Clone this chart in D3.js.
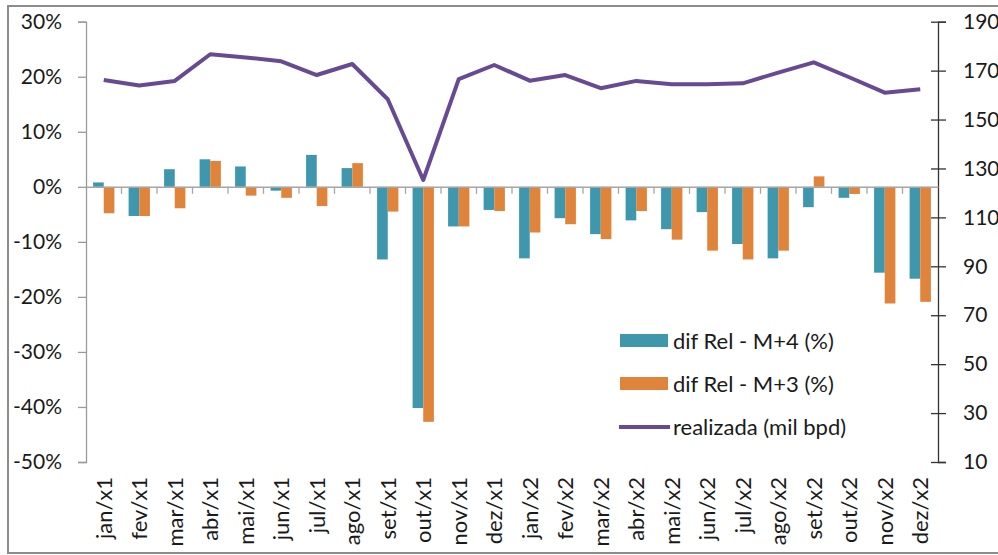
<!DOCTYPE html>
<html>
<head>
<meta charset="utf-8">
<script src="https://cdn.jsdelivr.net/npm/d3@7"></script>
<style>
  body { margin: 0; background: #fff; }
  svg { display: block; }
  text { font-family: Lato, Carlito, "Open Sans", sans-serif; fill: #1a1a1a; }
</style>
</head>
<body>
<div id="chart"></div>
<script>
// Data
const months = ['jan/x1','fev/x1','mar/x1','abr/x1','mai/x1','jun/x1','jul/x1','ago/x1','set/x1','out/x1','nov/x1','dez/x1',
                'jan/x2','fev/x2','mar/x2','abr/x2','mai/x2','jun/x2','jul/x2','ago/x2','set/x2','out/x2','nov/x2','dez/x2']
const difM4 = [0.8, -5.3, 3.2, 5.0, 3.7, -0.7, 5.8, 3.4, -13.2, -40.2, -7.2, -4.2,
               -13.0, -5.7, -8.6, -6.1, -7.7, -4.6, -10.4, -13.0, -3.7, -2.0, -15.6, -16.7]
const difM3 = [-4.8, -5.3, -3.9, 4.7, -1.6, -2.0, -3.5, 4.3, -4.5, -42.7, -7.2, -4.4,
               -8.3, -6.8, -9.5, -4.4, -9.6, -11.6, -13.2, -11.6, 1.9, -1.3, -21.2, -20.9]
const realizada = [166.2, 163.9, 165.8, 176.7, 175.4, 173.8, 168.2, 172.7, 158.3, 125.3, 166.5, 172.3,
                   165.9, 168.2, 162.8, 165.8, 164.4, 164.4, 164.8, 169.2, 173.4, 167.3, 161.0, 162.4]
const leftTicks = [30, 20, 10, 0, -10, -20, -30, -40, -50]
const rightTicks = [190, 170, 150, 130, 110, 90, 70, 50, 30, 10]
const seriesNames = ['dif Rel - M+4 (%)', 'dif Rel - M+3 (%)', 'realizada (mil bpd)']

const colors = { m4: '#3f97ae', m3: '#e0843b', line: '#684a92' }

const width = 998, height = 555
const svg = d3.select('#chart').append('svg')
  .attr('width', width)
  .attr('height', height)

// outer frame
svg.append('rect')
  .attr('x', 8).attr('y', 6)
  .attr('width', 1000).attr('height', 547)
  .attr('fill', 'none')
  .attr('stroke', '#8c8c8c')
  .attr('stroke-width', 2)

const plot = { left: 86, right: 938, top: 21.7, bottom: 462 }

// Scales
const x = d3.scaleBand().domain(months).range([plot.left, plot.right])
const yL = d3.scaleLinear().domain([-50, 30]).range([plot.bottom, plot.top])
const yR = d3.scaleLinear().domain([10, 190]).range([plot.bottom, plot.top])

const barW = x.bandwidth() * 0.3
const barOffset = (x.bandwidth() - 2 * barW) / 2

// Bars
const g = svg.append('g')
g.selectAll('rect.m4')
  .data(difM4)
  .enter().append('rect')
  .attr('class', 'm4')
  .attr('x', (d, i) => x(months[i]) + barOffset)
  .attr('y', d => yL(Math.max(0, d)))
  .attr('width', barW)
  .attr('height', d => Math.abs(yL(d) - yL(0)))
  .attr('fill', colors.m4)

g.selectAll('rect.m3')
  .data(difM3)
  .enter().append('rect')
  .attr('class', 'm3')
  .attr('x', (d, i) => x(months[i]) + barOffset + barW)
  .attr('y', d => yL(Math.max(0, d)))
  .attr('width', barW)
  .attr('height', d => Math.abs(yL(d) - yL(0)))
  .attr('fill', colors.m3)

// Left axis
const yAxisL = d3.axisLeft(yL)
  .tickValues(leftTicks)
  .tickFormat(d => d + '%')
  .tickSize(8)
  .tickPadding(16)
const leftG = svg.append('g')
  .attr('transform', `translate(${plot.left}, 0)`)
  .call(yAxisL)
leftG.select('.domain').attr('stroke', '#9a9a9a').attr('stroke-width', 1.3)
leftG.selectAll('.tick line').attr('stroke', '#9a9a9a').attr('stroke-width', 1.3)
leftG.selectAll('text').attr('font-size', '21px').attr('fill', '#1a1a1a')

// Right axis
const yAxisR = d3.axisRight(yR)
  .tickValues(rightTicks)
  .tickSize(8)
  .tickPadding(17)
const rightG = svg.append('g')
  .attr('transform', `translate(${plot.right}, 0)`)
  .call(yAxisR)
rightG.select('.domain').attr('stroke', '#333').attr('stroke-width', 1.3)
rightG.selectAll('.tick line').attr('x1', -7).attr('stroke', '#333').attr('stroke-width', 1.3)
rightG.selectAll('text').attr('font-size', '21px').attr('fill', '#1a1a1a')

// Category axis at 0%
const xAxis = d3.axisBottom(x).tickSize(0).tickFormat('')
const xG = svg.append('g')
  .attr('transform', `translate(0, ${yL(0)})`)
  .call(xAxis)
xG.select('.domain').attr('stroke', '#a6a6a6').attr('stroke-width', 1.5)
xG.selectAll('line.sep')
  .data(months.slice(1))
  .enter().append('line')
  .attr('class', 'sep')
  .attr('x1', d => x(d)).attr('x2', d => x(d))
  .attr('y1', 0).attr('y2', 7)
  .attr('stroke', '#a6a6a6')
  .attr('stroke-width', 1.3)

// Category labels (rotated, at bottom)
svg.selectAll('text.cat')
  .data(months)
  .enter().append('text')
  .attr('class', 'cat')
  .attr('transform', d => `translate(${x(d) + x.bandwidth() / 2 + 8}, ${plot.bottom + 15}) rotate(-90)`)
  .attr('text-anchor', 'end')
  .attr('font-size', '22px')
  .text(d => d)

// Line
const line = d3.line()
  .x((d, i) => x(months[i]) + x.bandwidth() / 2)
  .y(d => yR(d))
svg.append('path')
  .datum(realizada)
  .attr('d', line)
  .attr('fill', 'none')
  .attr('stroke', colors.line)
  .attr('stroke-width', 4)
  .attr('stroke-linejoin', 'round')

// Legend
const legend = svg.append('g').attr('transform', 'translate(620, 341)')
const legendItems = [
  { name: seriesNames[0], color: colors.m4, type: 'bar' },
  { name: seriesNames[1], color: colors.m3, type: 'bar' },
  { name: seriesNames[2], color: colors.line, type: 'line' }
]
legendItems.forEach((item, i) => {
  const row = legend.append('g').attr('transform', `translate(0, ${i * 43})`)
  if (item.type === 'bar') {
    row.append('rect')
      .attr('x', 0).attr('y', -7)
      .attr('width', 48).attr('height', 13)
      .attr('fill', item.color)
  } else {
    row.append('line')
      .attr('x1', -1).attr('x2', 50)
      .attr('y1', 0).attr('y2', 0)
      .attr('stroke', item.color)
      .attr('stroke-width', 4)
  }
  row.append('text')
    .attr('x', 53).attr('y', 8)
    .attr('font-size', '22px')
    .text(item.name)
})
</script>
</body>
</html>
